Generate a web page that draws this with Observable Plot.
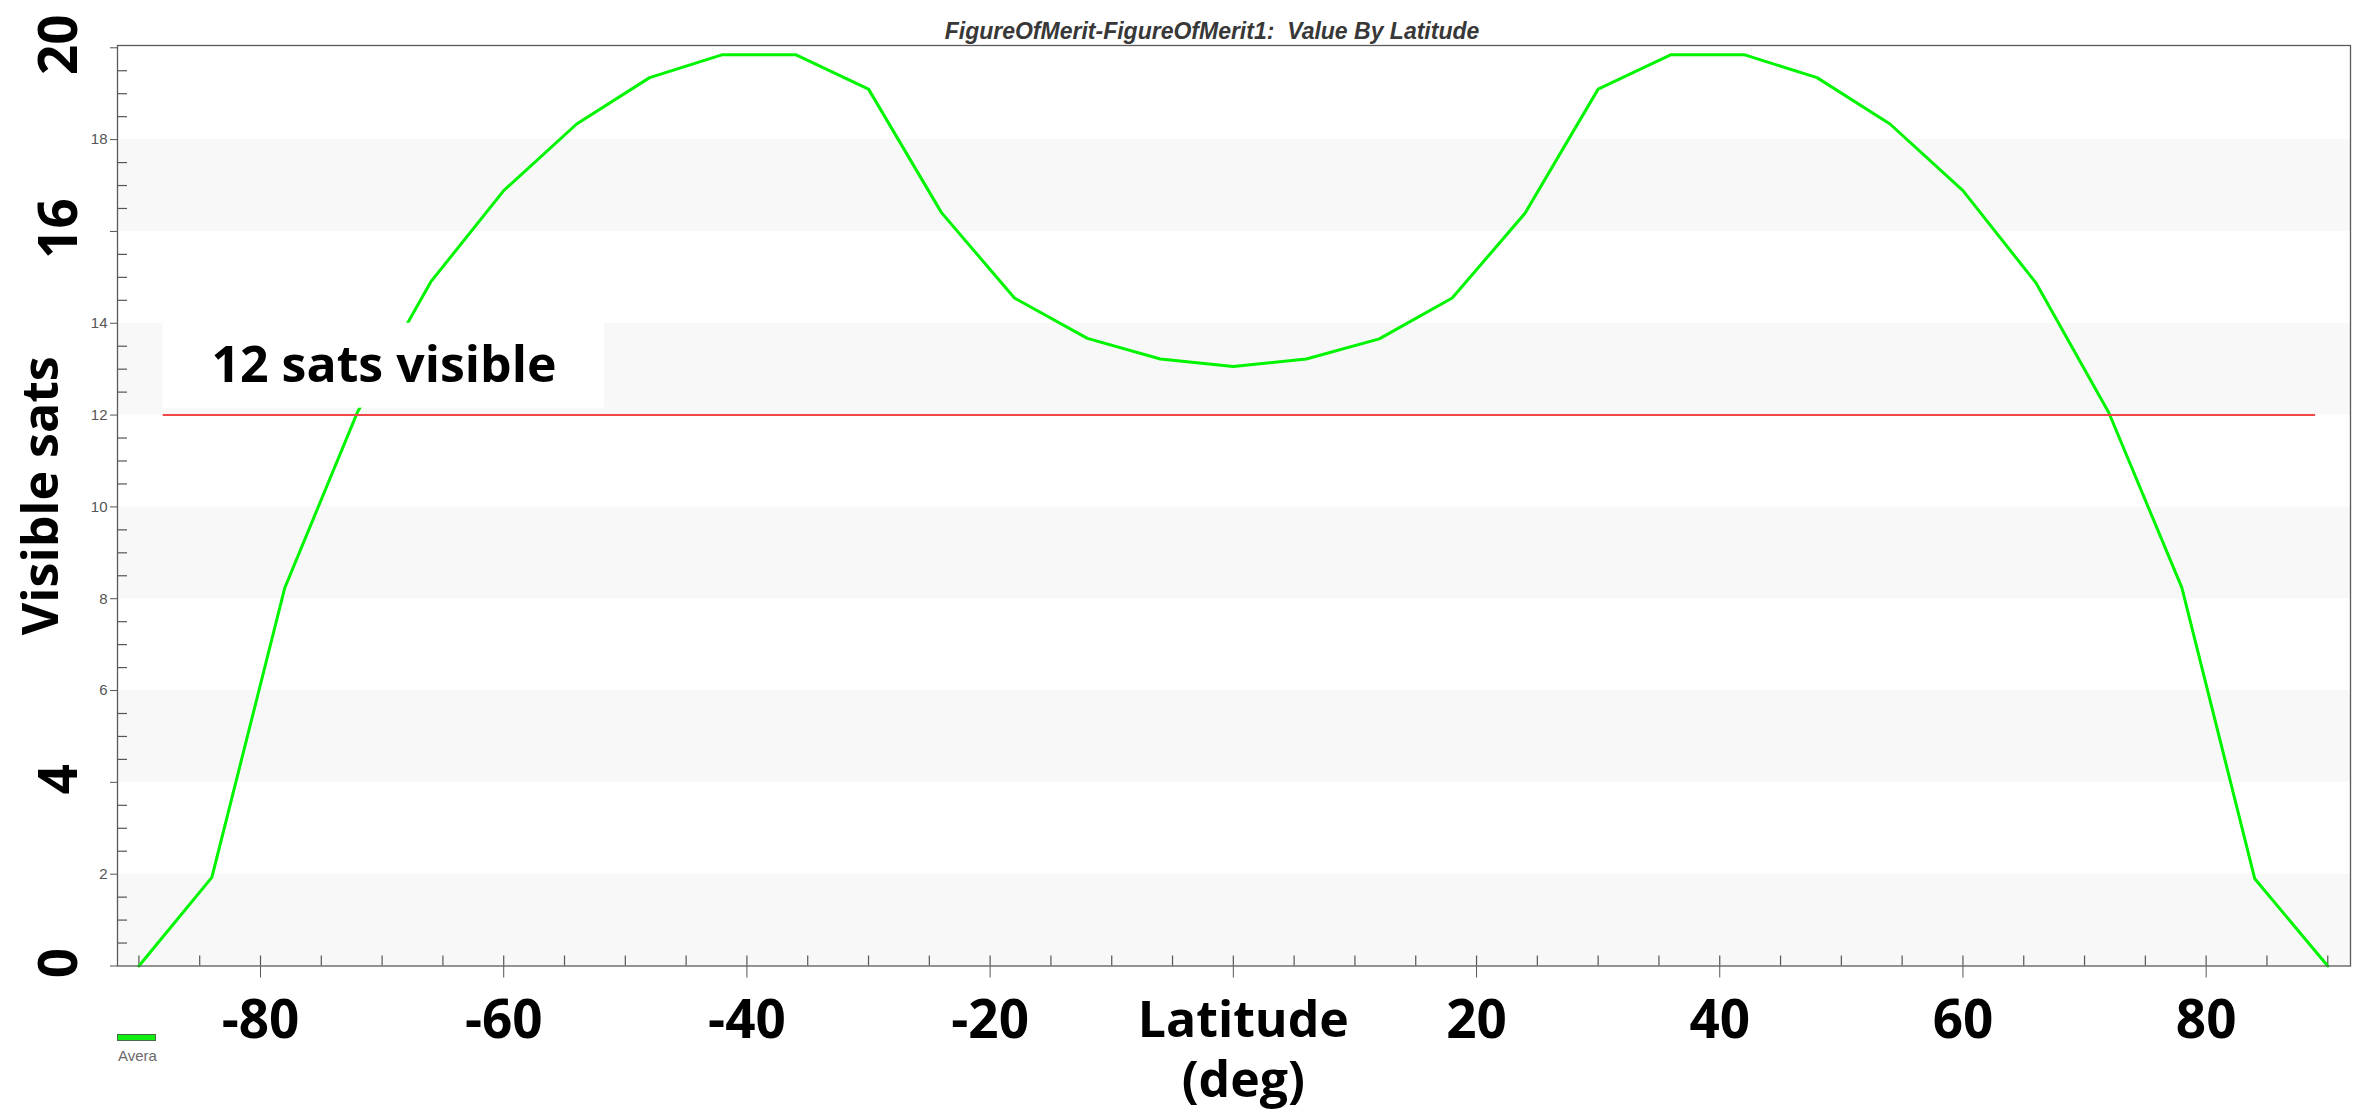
<!DOCTYPE html>
<html>
<head>
<meta charset="utf-8">
<script src="https://cdn.jsdelivr.net/npm/d3@7"></script>
<script src="https://cdn.jsdelivr.net/npm/@observablehq/plot@0.6"></script>
<style>
  html, body { margin: 0; padding: 0; background: #fff; }
  #wrap { position: relative; width: 2356px; height: 1117px; overflow: hidden; }
  #legend-swatch { position: absolute; left: 117px; top: 1034px; width: 37px; height: 5px; background: #11ee11; border: 1px solid #4a6a4a; }
  #legend-text { position: absolute; left: 118px; top: 1047px; font: 15px "Liberation Sans", Arial, sans-serif; color: #6a6a6a; }
</style>
</head>
<body>
<div id="wrap"><div id="chart"></div><div id="legend-swatch"></div><div id="legend-text"></div></div>
<script>
// ---- data ----
const chartTitle = "FigureOfMerit-FigureOfMerit1:  Value By Latitude";
const latitude = [-90, -84, -78, -72, -66, -60, -54, -48, -42, -36, -30, -24, -18, -12, -6, 0,
                  6, 12, 18, 24, 30, 36, 42, 48, 54, 60, 66, 72, 78, 84, 90];
const visibleSats = [0, 1.93, 8.24, 12.08, 14.9, 16.89, 18.34, 19.35, 19.85, 19.85, 19.1, 16.41, 14.55, 13.67, 13.22, 13.06,
                     13.22, 13.66, 14.55, 16.4, 19.1, 19.85, 19.85, 19.35, 18.34, 16.89, 14.88, 12.05, 8.24, 1.9, 0];
const legendLabel = "Avera";

const xMajorTicks = [-80, -60, -40, -20, 0, 20, 40, 60, 80];
const xTickLabels = [-80, -60, -40, -20, 20, 40, 60, 80];
const xTitle = ["Latitude", "(deg)"];
const yMajorTicks = [0, 2, 4, 6, 8, 10, 12, 14, 16, 18, 20];
const ySmallLabels = [2, 6, 8, 10, 12, 14, 18];
const yBigLabelValues = [20, 16, 4, 0];
const yTitle = "Visible sats";

const bandLo = [0, 4, 8, 12, 16];
const bandHi = [2, 6, 10, 14, 18];

const threshold = 12;
const thresholdFrom = -88;
const thresholdTo = 89;
const thresholdLabel = "12 sats visible";
const labelBoxX = [-88, -51.7];
const labelBoxY = [12.15, 14];

// ---- tables built from the arrays ----
const series = latitude.map((lat, i) => ({lat, sats: visibleSats[i]}));
const bands = bandLo.map((lo, i) => ({lo, hi: bandHi[i]}));
const yBig = yBigLabelValues.map(v => ({value: v, label: String(v)}));
const xMinor = d3.range(-90, 91, 5);
const yMinor = d3.range(0, 20.01, 0.5).filter(v => v % 2 !== 0);

// ---- layout ----
const W = 2356, H = 1117;
const mL = 117, mR = 6, mT = 45, mB = 151.5;
const xDomain = [-91.76, 91.87];
const yDomain = [0, 20.05];
const xPerPx = (xDomain[1] - xDomain[0]) / (W - mL - mR);
const yPerPx = (yDomain[1] - yDomain[0]) / (H - mT - mB);

const bigFont = "'Open Sans', 'Noto Sans', sans-serif";
const numSize = 53;
const wordSize = 50;

const chart = Plot.plot({
  width: W,
  height: H,
  marginLeft: mL,
  marginRight: mR,
  marginTop: mT,
  marginBottom: mB,
  style: {fontFamily: "'Liberation Sans', Arial, sans-serif", fontSize: "15px", color: "#555", background: "#fff", overflow: "visible"},
  x: {domain: xDomain, ticks: xMajorTicks, tickSize: 12, tickFormat: () => "", label: null},
  y: {domain: yDomain, ticks: yMajorTicks, tickSize: 7, tickPadding: 3,
      tickFormat: d => ySmallLabels.includes(d) ? String(d) : "", label: null},
  marks: [
    Plot.rect(bands, {y1: "lo", y2: "hi", fill: "#f8f8f8"}),
    Plot.ruleX(xMinor, {x: d => d, y1: 0, y2: 10 * yPerPx, stroke: "#555", strokeWidth: 1.2}),
    Plot.ruleY(yMinor, {y: d => d, x1: xDomain[0], x2: xDomain[0] + 10 * xPerPx, stroke: "#555", strokeWidth: 1.2}),
    Plot.line(series, {x: "lat", y: "sats", stroke: "#00f400", strokeWidth: 3}),
    Plot.rect([0], {x1: labelBoxX[0], x2: labelBoxX[1], y1: labelBoxY[0], y2: labelBoxY[1], fill: "white"}),
    Plot.ruleY([threshold], {y: d => d, x1: thresholdFrom, x2: thresholdTo, stroke: "#f04848", strokeWidth: 2}),
    Plot.text([thresholdLabel], {
      x: (labelBoxX[0] + labelBoxX[1]) / 2, y: (labelBoxY[0] + labelBoxY[1]) / 2, text: d => d,
      textAnchor: "middle", fontFamily: bigFont, fontWeight: 700, fontSize: wordSize, fill: "black"
    }),
    Plot.frame({stroke: "#5a5a5a", strokeWidth: 1.3}),
    // big x tick labels
    Plot.text(xTickLabels, {
      x: d => d, text: d => String(d), frameAnchor: "bottom", lineAnchor: "top", textAnchor: "middle", dy: 34.5,
      fontFamily: bigFont, fontWeight: 700, fontSize: numSize, fill: "black"
    }),
    // x title, line 1 and line 2
    Plot.text([xTitle[0]], {
      x: 0, text: d => d, frameAnchor: "bottom", lineAnchor: "top", textAnchor: "middle", dy: 35, dx: 10,
      fontFamily: bigFont, fontWeight: 700, fontSize: wordSize, fill: "black"
    }),
    Plot.text([xTitle[1]], {
      x: 0, text: d => d, frameAnchor: "bottom", lineAnchor: "top", textAnchor: "middle", dy: 95, dx: 10,
      fontFamily: bigFont, fontWeight: 700, fontSize: wordSize, fill: "black"
    }),
    // big y labels
    Plot.text(yBig, {
      y: "value", text: "label", frameAnchor: "left", textAnchor: "middle", dx: -57, dy: -3, rotate: -90,
      fontFamily: bigFont, fontWeight: 700, fontSize: numSize, fill: "black"
    }),
    // y title
    Plot.text([yTitle], {
      text: d => d, frameAnchor: "left", textAnchor: "middle", dx: -76, dy: -10, rotate: -90,
      fontFamily: bigFont, fontWeight: 700, fontSize: wordSize, fill: "black"
    }),
    // chart title
    Plot.text([chartTitle], {
      text: d => d, frameAnchor: "top", textAnchor: "middle", dx: -22, dy: -23,
      fontFamily: "'Liberation Sans', Arial, sans-serif", fontStyle: "italic", fontWeight: 700, fontSize: 23, fill: "#383838"
    })
  ]
});
document.getElementById("chart").appendChild(chart);
document.getElementById("legend-text").textContent = legendLabel;
</script>
</body>
</html>
